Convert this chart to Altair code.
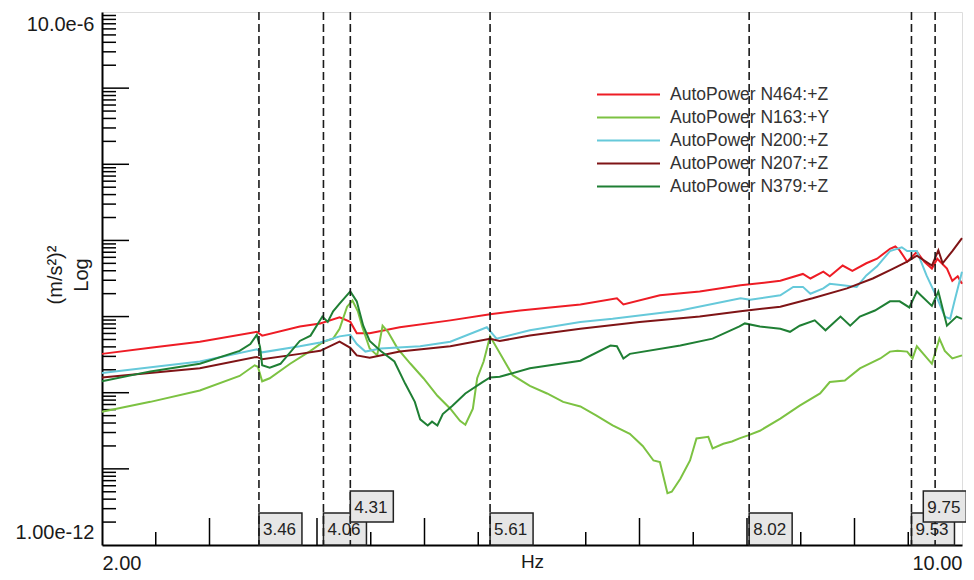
import altair as alt
import pandas as pd

SERIES = ["AutoPower N464:+Z", "AutoPower N163:+Y", "AutoPower N200:+Z",
          "AutoPower N207:+Z", "AutoPower N379:+Z"]
COLORS = ["#ee1c25", "#7cc242", "#66c9da", "#7f1416", "#1f7f34"]

# (Hz, log10 of (m/s^2)^2)
N464 = [(2.00, -9.49), (2.45, -9.41), (2.91, -9.33), (3.44, -9.20), (3.49, -9.25), (3.84, -9.13),
        (4.03, -9.09), (4.21, -9.01), (4.31, -9.07), (4.37, -9.22), (4.49, -9.22), (4.77, -9.14),
        (5.24, -9.05), (5.61, -8.97), (5.89, -8.92), (6.45, -8.84), (6.79, -8.76), (6.85, -8.84),
        (7.19, -8.72), (7.56, -8.67), (7.94, -8.59), (8.31, -8.53), (8.52, -8.44), (8.59, -8.50),
        (8.71, -8.41), (8.77, -8.47), (8.89, -8.33), (8.98, -8.40), (9.11, -8.30), (9.21, -8.24),
        (9.33, -8.11), (9.38, -8.08), (9.42, -8.13), (9.49, -8.28), (9.58, -8.15), (9.65, -8.28),
        (9.72, -8.37), (9.77, -8.24), (9.86, -8.37), (9.91, -8.53), (9.96, -8.47), (10.00, -8.57)]

N163 = [(2.00, -10.25), (2.45, -10.12), (2.91, -9.97), (3.28, -9.78), (3.42, -9.64), (3.45, -9.66),
        (3.49, -9.85), (3.56, -9.81), (3.75, -9.62), (3.94, -9.45), (4.06, -9.33), (4.15, -9.29),
        (4.21, -9.16), (4.28, -8.87), (4.33, -8.79), (4.38, -8.93), (4.42, -9.13), (4.49, -9.42),
        (4.56, -9.51), (4.61, -9.12), (4.66, -9.20), (4.75, -9.42), (4.87, -9.62), (4.99, -9.81),
        (5.12, -10.04), (5.24, -10.21), (5.33, -10.37), (5.38, -10.42), (5.45, -10.21), (5.49, -9.81),
        (5.55, -9.59), (5.61, -9.26), (5.82, -9.77), (5.98, -9.91), (6.14, -10.01), (6.29, -10.12),
        (6.45, -10.18), (6.60, -10.30), (6.75, -10.43), (6.91, -10.54), (7.03, -10.70), (7.13, -10.89),
        (7.19, -10.91), (7.26, -11.32), (7.30, -11.30), (7.38, -11.13), (7.47, -10.89), (7.53, -10.60),
        (7.64, -10.58), (7.68, -10.73), (7.78, -10.67), (7.86, -10.64), (7.93, -10.60), (8.01, -10.56),
        (8.12, -10.50), (8.31, -10.34), (8.49, -10.17), (8.68, -10.01), (8.77, -9.86), (8.91, -9.84),
        (9.05, -9.68), (9.24, -9.55), (9.33, -9.46), (9.40, -9.45), (9.49, -9.46), (9.54, -9.55),
        (9.58, -9.39), (9.72, -9.62), (9.79, -9.29), (9.84, -9.45), (9.91, -9.55), (10.00, -9.51)]

N200 = [(2.00, -9.74), (2.91, -9.59), (3.44, -9.43), (3.49, -9.47), (3.84, -9.39), (4.03, -9.34),
        (4.21, -9.26), (4.31, -9.24), (4.37, -9.36), (4.45, -9.46), (4.59, -9.42), (4.96, -9.39),
        (5.24, -9.33), (5.58, -9.14), (5.67, -9.29), (5.98, -9.18), (6.45, -9.07), (6.75, -9.03),
        (7.38, -8.92), (7.94, -8.76), (8.03, -8.78), (8.31, -8.72), (8.43, -8.61), (8.52, -8.61),
        (8.59, -8.70), (8.71, -8.63), (8.77, -8.57), (8.89, -8.59), (9.02, -8.61), (9.11, -8.46),
        (9.21, -8.34), (9.33, -8.14), (9.44, -8.09), (9.49, -8.14), (9.58, -8.14), (9.67, -8.46),
        (9.77, -8.76), (9.84, -9.00), (9.89, -9.03), (9.93, -8.80), (10.00, -8.41)]

N207 = [(2.00, -9.80), (2.91, -9.68), (3.44, -9.53), (3.49, -9.56), (3.84, -9.49), (4.03, -9.45),
        (4.21, -9.33), (4.31, -9.41), (4.37, -9.51), (4.49, -9.54), (4.77, -9.46), (5.24, -9.39),
        (5.61, -9.29), (5.70, -9.32), (5.98, -9.25), (6.45, -9.16), (7.00, -9.07), (7.56, -9.00),
        (7.94, -8.93), (8.31, -8.87), (8.61, -8.76), (8.93, -8.63), (9.17, -8.50), (9.36, -8.37),
        (9.49, -8.28), (9.58, -8.20), (9.72, -8.33), (9.78, -8.13), (9.82, -8.30), (9.91, -8.14),
        (10.00, -7.97)]

N379 = [(2.00, -9.85), (2.45, -9.72), (2.91, -9.62), (3.28, -9.45), (3.38, -9.36), (3.44, -9.24),
        (3.47, -9.40), (3.49, -9.64), (3.56, -9.67), (3.66, -9.62), (3.84, -9.32), (3.94, -9.25),
        (4.05, -9.00), (4.10, -9.07), (4.15, -8.93), (4.21, -8.83), (4.31, -8.67), (4.37, -8.80),
        (4.43, -9.12), (4.49, -9.32), (4.59, -9.45), (4.72, -9.59), (4.82, -9.88), (4.91, -10.12),
        (4.96, -10.35), (5.03, -10.43), (5.07, -10.38), (5.12, -10.43), (5.17, -10.28), (5.26, -10.17),
        (5.38, -10.01), (5.54, -9.86), (5.61, -9.80), (5.70, -9.79), (5.98, -9.68), (6.45, -9.58),
        (6.73, -9.38), (6.79, -9.39), (6.85, -9.55), (6.91, -9.49), (7.38, -9.38), (7.68, -9.29),
        (7.93, -9.13), (7.98, -9.09), (8.12, -9.13), (8.31, -9.16), (8.40, -9.20), (8.49, -9.12),
        (8.63, -9.05), (8.73, -9.18), (8.87, -9.00), (8.96, -9.12), (9.05, -9.00), (9.19, -8.92),
        (9.33, -8.80), (9.42, -8.80), (9.51, -8.88), (9.58, -8.67), (9.72, -8.86), (9.78, -8.67),
        (9.86, -9.12), (9.95, -9.00), (10.00, -9.03)]

MARK_HZ = [3.46, 4.06, 4.31, 5.61, 8.02, 9.53, 9.75]
MARK_ROW = [0, 0, 1, 0, 0, 0, 1]

X_MAJOR = [3, 4, 5, 6, 7, 8, 9]
X_MINOR = [2.5, 3.5, 4.5, 5.5, 6.5, 7.5, 8.5, 9.5]
Y_MAJOR = [1e-11, 1e-10, 1e-9, 1e-8, 1e-7, 1e-6]
Y_MINOR = [m * 10.0 ** e for e in range(-12, -5) for m in range(2, 10)]

W, H = 860, 533
FONT = "Liberation Sans"

rows = []
for name, pts in zip(SERIES, [N464, N163, N200, N207, N379]):
    for hz, lg in pts:
        rows.append({"series": name, "hz": hz, "lg": lg})
df = pd.DataFrame(rows)
mk = pd.DataFrame({"hz": MARK_HZ, "row": MARK_ROW})

xs = alt.Scale(domain=[2, 10], nice=False, zero=False)
ys = alt.Scale(type="log", domain=[1e-12, 1e-5], nice=False)

x_axis = alt.Axis(values=[2, 10], format=".2f", labelFlush=True, ticks=False, tickSize=0,
                  grid=False, domainColor="black", domainWidth=2, labelFont=FONT,
                  labelFontSize=20, labelColor="#1a1a1a", labelPadding=8,
                  title="Hz", titleFont=FONT, titleFontSize=19, titleFontWeight="normal",
                  titleColor="#1a1a1a", titleY=16, titleBaseline="middle")
y_axis = alt.Axis(values=[1e-12, 1e-5],
                  labelExpr="datum.value > 1e-8 ? '10.0e-6' : '1.00e-12'",
                  labelFlush=True, labelFlushOffset=-2.5, ticks=False, tickSize=0, grid=False,
                  domainColor="black", domainWidth=2, labelFont=FONT, labelFontSize=20,
                  labelColor="#1a1a1a", labelPadding=8,
                  title=["(m/s²)²", "Log"], titleFont=FONT, titleFontSize=20,
                  titleFontWeight="normal", titleColor="#1a1a1a", titleAngle=270,
                  titleX=-41, titleY=H / 2 - 4, titleAlign="center", titleBaseline="alphabetic",
                  titleLineHeight=26)

lines = alt.Chart(df).transform_calculate(val="pow(10, datum.lg)").mark_line(
    strokeWidth=2).encode(
    x=alt.X("hz:Q", scale=xs, axis=x_axis),
    y=alt.Y("val:Q", scale=ys, axis=y_axis),
    color=alt.Color("series:N", scale=alt.Scale(domain=SERIES, range=COLORS),
                    legend=alt.Legend(orient="none", legendX=515, legendY=71, title=None,
                                      symbolType="M-3,0L3,0", symbolSize=441,
                                      symbolStrokeWidth=2, labelFont=FONT,
                                      labelFontSize=17.5, labelColor="#333333",
                                      labelOffset=30, rowPadding=3, padding=0)),
)

tick_style = dict(color="black", strokeWidth=1.5)
xt_major = alt.Chart(pd.DataFrame({"v": X_MAJOR})).mark_rule(**tick_style).encode(
    x=alt.X("v:Q", scale=xs), y=alt.value(H), y2=alt.value(H - 27))
xt_minor = alt.Chart(pd.DataFrame({"v": X_MINOR})).mark_rule(**tick_style).encode(
    x=alt.X("v:Q", scale=xs), y=alt.value(H), y2=alt.value(H - 13))
yt_major = alt.Chart(pd.DataFrame({"v": Y_MAJOR})).mark_rule(**tick_style).encode(
    y=alt.Y("v:Q", scale=ys), x=alt.value(0), x2=alt.value(27))
yt_minor = alt.Chart(pd.DataFrame({"v": Y_MINOR})).mark_rule(**tick_style).encode(
    y=alt.Y("v:Q", scale=ys), x=alt.value(0), x2=alt.value(14))

mk_base = alt.Chart(mk).transform_calculate(
    left="min(datum.hz, 9.64)", right="min(datum.hz, 9.64) + 0.4",
    label="format(datum.hz, '.2f')")


def boxes(row, top, bottom):
    b = mk_base.transform_filter(f"datum.row == {row}")
    rect = b.mark_rect(fill="#e6e6e6", stroke="#222222", strokeWidth=1.5).encode(
        x=alt.X("left:Q", scale=xs), x2="right:Q", y=alt.value(top), y2=alt.value(bottom))
    txt = b.mark_text(align="left", baseline="middle", dx=4, font=FONT, fontSize=17,
                      color="#222222").encode(
        x=alt.X("left:Q", scale=xs), y=alt.value((top + bottom) / 2 + 1), text="label:N")
    return rect, txt


box0, txt0 = boxes(0, H - 32, H)
box1, txt1 = boxes(1, H - 54, H - 23)

dash = alt.Chart(mk).mark_rule(strokeDash=[8, 4], strokeWidth=1.6, color="#1a1a1a").encode(
    x=alt.X("hz:Q", scale=xs), y=alt.value(0), y2=alt.value(H))

chart = alt.layer(
    xt_major, xt_minor, yt_major, yt_minor, lines, box0, txt0, dash, box1, txt1
).properties(
    width=W, height=H,
    autosize=alt.AutoSizeParams(type="none"),
    padding={"left": 94, "top": 4, "right": 4, "bottom": 27},
).configure_view(stroke="black", strokeWidth=1.5).configure(font=FONT)

chart.save("out.html", embed_options={"renderer": "svg", "actions": False})
